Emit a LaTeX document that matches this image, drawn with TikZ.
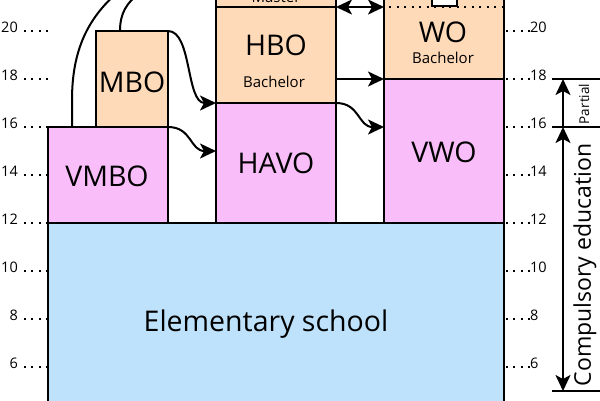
\documentclass[tikz,border=0pt]{standalone}
\usepackage{fontspec}
\setmainfont{Open Sans}
\usetikzlibrary{arrows.meta}
\definecolor{peach}{RGB}{255,218,185}
\definecolor{pinkv}{RGB}{249,190,250}
\definecolor{skyb}{RGB}{190,226,251}
\tikzset{
  box/.style={draw=black,line width=2.6pt},
  conn/.style={line width=2pt,-{Stealth[length=16pt,width=15pt,inset=4pt]}},
  conn2/.style={line width=2pt,{Stealth[length=16pt,width=15pt,inset=4pt]}-{Stealth[length=16pt,width=15pt,inset=4pt]}},
  big/.style={font=\fontsize{28.5}{32}\selectfont,anchor=base,inner sep=0pt},
  small/.style={font=\fontsize{15}{17}\selectfont,anchor=base,inner sep=0pt},
  num/.style={font=\fontsize{14.5}{16}\selectfont,anchor=base,inner sep=0pt},
  dots/.style={line width=2pt,dash pattern=on 2pt off 5.3pt},
}
\begin{document}
\begin{tikzpicture}[x=1pt,y=-1pt]
\useasboundingbox (0,0) rectangle (600,400);
\clip (0,0) rectangle (600,400);
% boxes
\fill[skyb] (48,223) rectangle (504,430);
\draw[box] (48,430) -- (48,223) -- (504,223) -- (504,430);
\filldraw[box,fill=pinkv] (48,127) rectangle (168,223);
\filldraw[box,fill=peach] (96,31) rectangle (168,127);
\filldraw[box,fill=pinkv] (216,103) rectangle (336,223);
\filldraw[box,fill=peach] (216,7) rectangle (336,103);
\filldraw[box,fill=peach] (216,-30) rectangle (336,7);
\filldraw[box,fill=pinkv] (384,79) rectangle (504,223);
\fill[peach] (384,-30) rectangle (504,79);
\draw[box] (384,-30) -- (384,79) -- (504,79) -- (504,-30);
\draw[line width=2pt,dash pattern=on 2pt off 5.5pt] (389,7) -- (504,7);
\filldraw[box,line width=2pt,fill=white] (432,-10) rectangle (457,6);
% texts
\node[big] (elem) at (266,331) {Elementary school};
\node[big] (vmbo) at (107,186) {VMBO};
\node[big] (mbo) at (132,92) {MBO};
\node[big] (havo) at (276,173) {HAVO};
\node[big] (hbo) at (276,55) {HBO};
\node[small] (hbob) at (274,87) {Bachelor};
\node[small] (master) at (276,2) {Master};
\node[big] (vwo) at (444,162) {VWO};
\node[big] (wo) at (443,42) {WO};
\node[small] (wob) at (443,63) {Bachelor};
% scale labels
\foreach \a in {20,18,...,6}{
  \pgfmathsetmacro{\yy}{223-24*(\a-12)}
  \node[num,anchor=base east] (l\a) at (18,\yy+1) {\a};
  \draw[dots] (24,\yy) -- (48,\yy);
  \draw[dots] (506,\yy) -- (530,\yy);
  \node[num,anchor=base west] (r\a) at (530,\yy+1) {\a};
}
% named points
\coordinate (mboTR) at (168,31);
\coordinate (hboIn) at (216,103);
\coordinate (vmboTR) at (168,127);
\coordinate (havoIn) at (216,151);
\coordinate (havoTR) at (336,103);
\coordinate (vwoIn) at (384,127);
\coordinate (hboR) at (336,79);
\coordinate (woL) at (384,79);
\coordinate (hboM) at (336,7);
\coordinate (woM) at (384,7);
\coordinate (vmboTop) at (72,127);
\coordinate (mboTop) at (120,31);
\coordinate (outA) at (118,-8);
\coordinate (outB) at (142,-8);
% connectors
\draw[conn] (mboTR) .. controls (192,31) and (186,103) .. (hboIn);
\draw[conn] (vmboTR) .. controls (192,127) and (190,151) .. (havoIn);
\draw[conn] (havoTR) .. controls (360,103) and (358,127) .. (vwoIn);
\draw[conn] (hboR) -- (woL);
\draw[conn2] (hboM) -- (woM);
\draw[line width=2pt] (vmboTop) -- (72,100) .. controls (72,50) and (88,18) .. (outA);
\draw[line width=2pt] (mboTop) .. controls (120,14) and (126,2) .. (outB);
% right bracket
\coordinate (b18) at (552,79);
\coordinate (b16) at (552,127);
\coordinate (b5) at (552,391);
\draw[line width=2.4pt] (b18) -- +(50,0);
\draw[line width=2.4pt] (b16) -- +(50,0);
\draw[line width=2.4pt] (b5) -- +(50,0);
\coordinate (pTop) at (563,79);
\coordinate (pBot) at (563,127);
\coordinate (cBot) at (563,391);
\draw[conn] (pBot) -- (pTop);
\draw[conn2] (pBot) -- (cBot);
\node[font=\fontsize{13.5}{15}\selectfont,rotate=90,inner sep=0pt] (partial) at (584,104) {Partial};
\node[font=\fontsize{23}{26}\selectfont,rotate=90,inner sep=0pt] (comp) at (585,265) {Compulsory education};
\end{tikzpicture}
\end{document}
